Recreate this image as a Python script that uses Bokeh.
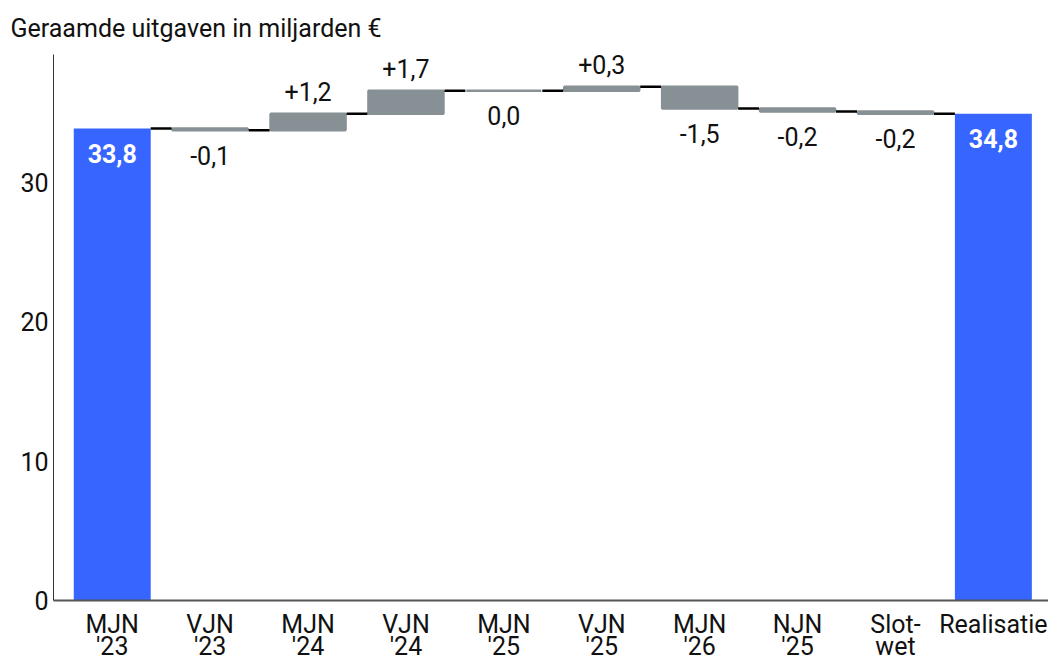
from bokeh.plotting import figure
from bokeh.models import Range1d, FixedTicker, ColumnDataSource
from bokeh.core.properties import value
from bokeh.embed import file_html
from bokeh.resources import INLINE

# ---- data ----
title_text = "Geraamde uitgaven in miljarden €"
categories = ["MJN\n'23", "VJN\n'23", "MJN\n'24", "VJN\n'24", "MJN\n'25",
              "VJN\n'25", "MJN\n'26", "NJN\n'25", "Slot-\nwet", "Realisatie"]
start_value = 33.84
deltas = [-0.13, 1.18, 1.65, 0.0, 0.29, -1.56, -0.22, -0.16]
value_labels = ["33,8", "-0,1", "+1,2", "+1,7", "0,0", "+0,3", "-1,5", "-0,2", "-0,2", "34,8"]
y_ticks = [0, 10, 20, 30]

FONT = "Roboto"
FS = "25px"
BLUE = "#3765FF"
GRAY = "#879095"
INK = "#111111"

# ---- derived ----
levels = [start_value]
for d in deltas:
    levels.append(levels[-1] + d)
end_value = levels[-1]

xs = list(range(len(categories)))
BW = 0.786

p = figure(width=1048, height=663, output_backend="svg", toolbar_location=None,
           x_range=Range1d(-0.600, 9.563), y_range=Range1d(0, 39.14),
           min_border_left=53, min_border_right=0, min_border_top=54,
           min_border_bottom=61)
p.outline_line_color = None
p.grid.visible = False
p.background_fill_color = "white"
p.border_fill_color = "white"

# title
p.title.text = title_text
p.title.text_font = FONT
p.title.text_font_size = FS
p.title.text_font_style = "normal"
p.title.text_color = INK
p.title.text_line_height = 0.6
p.title.align = "left"
p.title.vertical_align = "top"
p.title.offset = -43
p.title.standoff = 20

# blue total bars
tot_src = ColumnDataSource(dict(x=[xs[0], xs[-1]], top=[start_value, end_value],
                                lab=[value_labels[0], value_labels[-1]]))
p.vbar(x="x", top="top", bottom=0, width=BW, source=tot_src,
       fill_color=BLUE, line_color=None)
p.text(x="x", y="top", text="lab", source=tot_src, text_align="center",
       text_baseline="middle", y_offset=25, text_color="white",
       text_font=value(FONT), text_font_size=FS, text_font_style="bold")

# gray delta bars
dx = xs[1:-1]
bottoms = [min(levels[i], levels[i + 1]) for i in range(len(deltas))]
tops = [max(levels[i], levels[i + 1]) for i in range(len(deltas))]
d_src = ColumnDataSource(dict(x=dx, bottom=bottoms, top=tops))
p.vbar(x="x", top="top", bottom="bottom", width=BW - 0.02, source=d_src,
       fill_color=GRAY, line_color=GRAY, line_width=2.5)

# connectors
cx0 = [xs[i] + BW / 2 for i in range(len(categories) - 1)]
cx1 = [xs[i + 1] - BW / 2 for i in range(len(categories) - 1)]
p.segment(x0=cx0, x1=cx1, y0=levels, y1=levels, line_color="black", line_width=2.5)

# delta labels
pos_x = [dx[i] for i, d in enumerate(deltas) if d > 0]
pos_y = [tops[i] for i, d in enumerate(deltas) if d > 0]
pos_t = [value_labels[i + 1] for i, d in enumerate(deltas) if d > 0]
neg_x = [dx[i] for i, d in enumerate(deltas) if d <= 0]
neg_y = [bottoms[i] for i, d in enumerate(deltas) if d <= 0]
neg_t = [value_labels[i + 1] for i, d in enumerate(deltas) if d <= 0]
p.text(x=pos_x, y=pos_y, text=pos_t, text_align="center", text_baseline="middle",
       y_offset=-22, text_color=INK, text_font=value(FONT), text_font_size=FS)
p.text(x=neg_x, y=neg_y, text=neg_t, text_align="center", text_baseline="middle",
       y_offset=25, text_color=INK, text_font=value(FONT), text_font_size=FS)

# axes
p.xaxis.ticker = FixedTicker(ticks=xs)
p.xaxis.major_label_overrides = {i: c for i, c in enumerate(categories)}
p.xaxis.major_label_text_font = FONT
p.xaxis.major_label_text_font_size = FS
p.xaxis.major_label_text_color = INK
p.xaxis.major_label_text_line_height = 0.76
p.xaxis.major_tick_line_color = None
p.xaxis.minor_tick_line_color = None
p.xaxis.major_tick_out = 0
p.xaxis.major_tick_in = 0
p.xaxis.axis_line_color = "#555555"
p.xaxis.axis_line_width = 2
p.xaxis.major_label_standoff = 9

p.yaxis.ticker = FixedTicker(ticks=y_ticks)
p.yaxis.major_label_text_font = FONT
p.yaxis.major_label_text_font_size = FS
p.yaxis.major_label_text_color = INK
p.yaxis.major_tick_line_color = None
p.yaxis.minor_tick_line_color = None
p.yaxis.major_tick_out = 0
p.yaxis.major_tick_in = 0
p.yaxis.axis_line_color = "#333333"
p.yaxis.axis_line_width = 1
p.yaxis.major_label_standoff = 5

open("out.html", "w").write(file_html(p, INLINE))
